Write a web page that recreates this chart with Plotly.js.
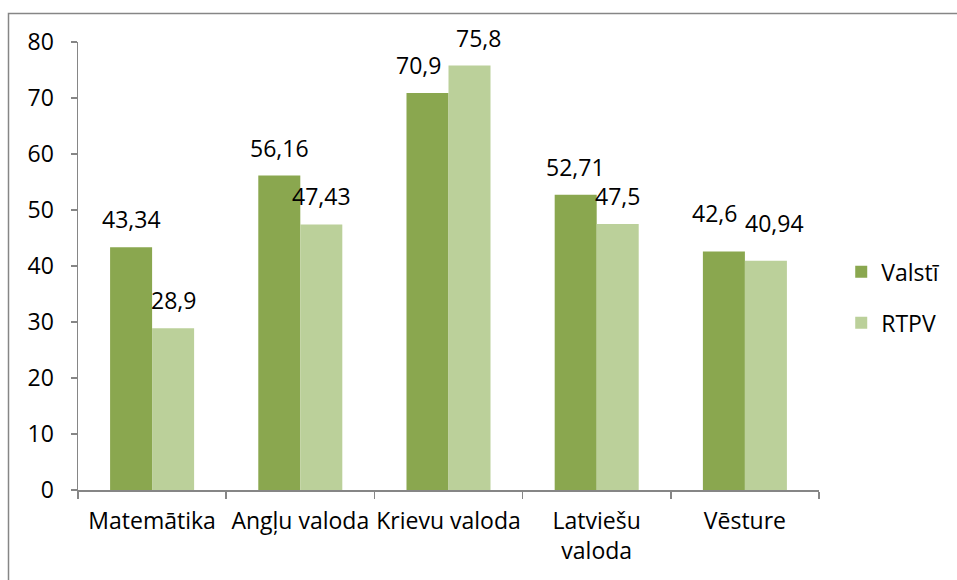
<!DOCTYPE html>
<html>
<head>
<meta charset="utf-8">
<script src="https://cdn.plot.ly/plotly-3.0.1.min.js"></script>
<style>html,body{margin:0;padding:0;background:#fff;}</style>
</head>
<body>
<div id="chart" style="width:957px;height:580px;"></div>
<script>
const categories = ["Matemātika", "Angļu valoda", "Krievu valoda", "Latviešu<br>valoda", "Vēsture"];
const valsti = [43.34, 56.16, 70.9, 52.71, 42.6];
const rtpv = [28.9, 47.43, 75.8, 47.5, 40.94];
const seriesNames = ["Valstī", "RTPV"];
const yTicks = [0, 10, 20, 30, 40, 50, 60, 70, 80];

const fmt = v => String(v).replace('.', ',');
const font = {family: "Open Sans, Noto Sans, sans-serif", size: 23, color: "#000"};

const traces = [
  {type: 'bar', name: seriesNames[0], x: categories, y: valsti,
   marker: {color: '#8AA74F'}, legendgroup: 'a', hoverinfo: 'skip'},
  {type: 'bar', name: seriesNames[1], x: categories, y: rtpv,
   marker: {color: '#BBD09A'}, legendgroup: 'b', hoverinfo: 'skip'}
];

const L = 78, R = 138, T = 42, B = 90, W = 957, H = 580;
const pw = W - L - R, ph = H - T - B;
const bargap = 0.433;
const barW = pw / categories.length * (1 - bargap) / 2;
const yMax = 80;
const pxPerUnit = ph / yMax;

// data labels placed above each bar, nudged apart when two labels would collide
const annotations = [];
categories.forEach((c, i) => {
  const dy = Math.abs(valsti[i] - rtpv[i]) * pxPerUnit;
  const nudge = dy < 28 ? 9 : 0;
  const lift = dy < 15 ? 20 : 10;
  annotations.push({x: c, y: valsti[i], text: fmt(valsti[i]), showarrow: false,
    xanchor: 'center', yanchor: 'bottom', xshift: -barW / 2 - nudge, yshift: lift, font: font});
  annotations.push({x: c, y: rtpv[i], text: fmt(rtpv[i]), showarrow: false,
    xanchor: 'center', yanchor: 'bottom', xshift: barW / 2 + nudge, yshift: lift, font: font});
});

const layout = {
  width: W, height: H,
  margin: {l: L, r: R, t: T, b: B, pad: 0},
  paper_bgcolor: '#fff', plot_bgcolor: '#fff',
  font: font,
  barmode: 'group', bargap: bargap, bargroupgap: 0,
  showlegend: true,
  legend: {x: 1.03, y: 0.43, xanchor: 'left', yanchor: 'middle', font: font,
           traceorder: 'grouped', tracegroupgap: 18, itemwidth: 30},
  xaxis: {type: 'category', showline: true, linecolor: '#868686', linewidth: 1.5,
          ticks: 'outside', tickson: 'boundaries', ticklen: 7, tickcolor: '#868686', tickwidth: 1.5,
          tickangle: 0, showgrid: false, zeroline: false, tickfont: font, ticklabelstandoff: 10,
          fixedrange: true},
  yaxis: {range: [0, yMax], tickvals: yTicks, ticktext: yTicks.map(String), showline: true,
          linecolor: '#868686', linewidth: 1.5, ticks: 'outside', ticklen: 6, tickcolor: '#868686',
          tickwidth: 1.5, showgrid: false, zeroline: false, tickfont: font, ticklabelstandoff: 12,
          fixedrange: true},
  annotations: annotations,
  shapes: [{type: 'rect', xref: 'paper', yref: 'paper', layer: 'below',
            x0: (8.5 - L) / pw, x1: (W + 10 - L) / pw,
            y0: (H - B - (H + 10)) / ph, y1: (H - B - 13.5) / ph,
            line: {color: '#868686', width: 1.5}, fillcolor: 'rgba(0,0,0,0)'}]
};

Plotly.newPlot('chart', traces, layout, {displayModeBar: false, staticPlot: true});
</script>
</body>
</html>
